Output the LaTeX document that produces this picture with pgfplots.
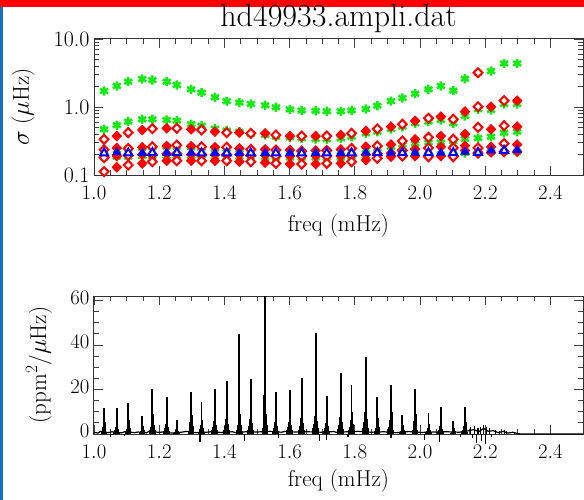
\documentclass[border=0pt]{standalone}
\usepackage{pgfplots}
\pgfplotsset{compat=1.18}
\usepackage{pgfplotstable}
\definecolor{grn}{RGB}{20,235,20}
\definecolor{rd}{RGB}{255,0,0}
\definecolor{bl}{RGB}{0,0,255}
\definecolor{barblue}{RGB}{20,110,200}

\pgfplotstableread{
k f G1 G2 G3 G4 D1 D2 D3 D4 B
0 0.992 1.59 0.40 0.22 0.18 0.30 0.23 0.172 0.106 0.205
1 1.031 1.72 0.47 0.22 0.18 0.335 0.235 0.18 0.112 0.21
2 1.070 2.04 0.54 0.23 0.185 0.374 0.25 0.19 0.13 0.215
3 1.105 2.36 0.61 0.24 0.185 0.42 0.245 0.195 0.14 0.21
4 1.148 2.58 0.66 0.25 0.19 0.46 0.255 0.20 0.148 0.21
5 1.179 2.49 0.66 0.255 0.19 0.48 0.26 0.20 0.157 0.212
6 1.223 2.36 0.645 0.26 0.19 0.486 0.267 0.205 0.162 0.212
7 1.254 2.11 0.63 0.26 0.19 0.486 0.275 0.205 0.162 0.212
8 1.298 1.82 0.56 0.255 0.19 0.47 0.265 0.20 0.162 0.212
9 1.330 1.63 0.53 0.25 0.19 0.46 0.26 0.20 0.162 0.21
10 1.371 1.39 0.48 0.245 0.185 0.434 0.256 0.20 0.162 0.21
11 1.407 1.22 0.45 0.24 0.185 0.42 0.256 0.20 0.162 0.21
12 1.446 1.16 0.434 0.235 0.185 0.42 0.246 0.20 0.157 0.21
13 1.481 1.11 0.40 0.23 0.18 0.41 0.238 0.195 0.157 0.21
14 1.525 1.06 0.387 0.225 0.18 0.41 0.238 0.195 0.152 0.21
15 1.558 0.99 0.366 0.22 0.18 0.387 0.233 0.19 0.148 0.21
16 1.601 0.92 0.358 0.22 0.18 0.374 0.233 0.19 0.145 0.21
17 1.637 0.89 0.346 0.215 0.18 0.374 0.225 0.19 0.145 0.21
18 1.680 0.88 0.338 0.215 0.18 0.374 0.229 0.19 0.145 0.21
19 1.714 0.865 0.335 0.215 0.18 0.374 0.229 0.19 0.148 0.21
20 1.757 0.865 0.346 0.22 0.18 0.387 0.238 0.19 0.148 0.21
21 1.790 0.89 0.366 0.225 0.185 0.41 0.246 0.195 0.157 0.21
22 1.834 0.935 0.41 0.235 0.19 0.444 0.261 0.20 0.166 0.212
23 1.869 1.045 0.434 0.245 0.19 0.475 0.267 0.205 0.176 0.212
24 1.911 1.22 0.475 0.26 0.195 0.514 0.281 0.21 0.186 0.212
25 1.946 1.36 0.514 0.28 0.20 0.558 0.316 0.23 0.19 0.212
26 1.985 1.57 0.576 0.29 0.20 0.625 0.335 0.24 0.19 0.212
27 2.026 1.82 0.609 0.30 0.20 0.683 0.358 0.25 0.186 0.212
28 2.064 2.04 0.645 0.30 0.20 0.722 0.374 0.26 0.19 0.212
29 2.102 1.74 0.576 0.28 0.20 0.66 0.335 0.25 0.186 0.212
30 2.138 2.61 0.738 0.34 0.21 0.856 0.40 0.27 0.23 0.22
31 2.178 3.19 0.925 0.35 0.21 1.01 0.503 0.25 0.21 0.213
32 2.218 3.38 0.905 0.366 0.22 1.01 0.47 0.26 0.215 0.229
33 2.258 4.38 1.11 0.419 0.22 1.24 0.53 0.29 0.22 0.229
34 2.298 4.38 1.11 0.434 0.22 1.24 0.514 0.28 0.22 0.233
}\topdata

\pgfplotsset{
  common/.style={
    scale only axis, width=489pt,
    xmin=1.0, xmax=2.5,
    xtick={1.0,1.2,1.4,1.6,1.8,2.0,2.2,2.4},
    minor x tick num=3,
    xticklabel style={/pgf/number format/fixed,/pgf/number format/fixed zerofill,/pgf/number format/precision=1, yshift=-8pt},
    yticklabel style={xshift=-1pt},
    tick label style={font=\fontsize{22}{22}\selectfont},
    label style={font=\fontsize{23}{23}\selectfont},
    major tick length=9pt, minor tick length=5pt,
    axis line style={line width=1pt, black!80},
    every tick/.style={black!75, line width=0.8pt},
    xlabel={freq (mHz)},
  },
  gstar/.style={only marks, mark=asterisk, mark size=4.6pt, color=grn, line width=2.5pt},
  rfill/.style={only marks, mark=diamond*, mark size=4.7pt, color=rd, mark options={fill=rd, line width=1pt, xscale=1.3}},
  ropen/.style={only marks, mark=diamond*, mark size=4.5pt, color=rd, mark options={fill=white, line width=2pt, xscale=1.3}},
  bfill/.style={only marks, mark=triangle*, mark size=4.8pt, color=bl, mark options={fill=bl, line width=0.8pt}},
  bopen/.style={only marks, mark=triangle*, mark size=4.6pt, color=bl, mark options={fill=white, line width=2pt}},
  even/.style={x filter/.code={\ifodd\coordindex\relax\def\pgfmathresult{}\fi}},
  odd/.style={x filter/.code={\ifodd\coordindex\relax\else\def\pgfmathresult{}\fi}},
}

\begin{document}
\begin{tikzpicture}
\useasboundingbox (0,0) rectangle (584pt,-500pt);
\fill[white] (0,0) rectangle (584pt,-500pt);
\fill[red] (0,0) rectangle (584pt,-7pt);
\fill[barblue] (0,-7pt) rectangle (3pt,-500pt);

\begin{axis}[common, at={(94pt,-175pt)}, anchor=south west, height=136pt,
  ymode=log, ymin=0.1, ymax=10, ytick={0.1,1,10}, yticklabels={0.1,1.0,10.0},
  ylabel={$\sigma$ ($\mu$Hz)},
  ylabel style={at={(axis description cs:-0.145,0.5)}, anchor=center},
  xlabel style={at={(axis description cs:0.5,-0.419)}, anchor=base},
  title={hd49933.ampli.dat},
  title style={font=\fontsize{32}{32}\selectfont, at={(axis description cs:0.5,1)}, anchor=base, yshift=6pt},
]
\addplot[gstar] table[x=f,y=G1] {\topdata};
\addplot[gstar] table[x=f,y=G2] {\topdata};
\addplot[gstar] table[x=f,y=G3] {\topdata};
\addplot[gstar] table[x=f,y=G4] {\topdata};
\addplot[rfill, even] table[x=f,y=D1] {\topdata};
\addplot[ropen, odd] table[x=f,y=D1] {\topdata};
\addplot[rfill, even] table[x=f,y=D2] {\topdata};
\addplot[ropen, odd] table[x=f,y=D2] {\topdata};
\addplot[rfill, even] table[x=f,y=D3] {\topdata};
\addplot[ropen, odd] table[x=f,y=D3] {\topdata};
\addplot[rfill, even] table[x=f,y=D4] {\topdata};
\addplot[ropen, odd] table[x=f,y=D4] {\topdata};
\addplot[ropen] coordinates {(2.178,3.19)};
\addplot[bfill, even] table[x=f,y=B] {\topdata};
\addplot[bopen, odd] table[x=f,y=B] {\topdata};
\end{axis}

\begin{axis}[common, at={(94pt,-434pt)}, anchor=south west, height=138pt,
  ymin=0, ymax=62, ytick={0,20,40,60}, minor y tick num=3, clip=false,
  yticklabel style={yshift=3pt},
  ylabel={(ppm$^2$/$\mu$Hz)},
  ylabel style={at={(axis description cs:-0.1125,0.5)}, anchor=center},
  xlabel style={at={(axis description cs:0.5,-0.384)}, anchor=base},
]
\addplot[ycomb, black, line width=1.8pt] coordinates {
(1.023,0.9)(1.026,1.8)(1.0285,3.3)(1.031,11.8)(1.033,5.3)(1.0355,2.4)(1.038,0.9)
(1.062,0.9)(1.065,1.8)(1.0675,3.3)(1.070,11.8)(1.072,5.3)(1.0745,2.4)(1.077,0.9)
(1.097,1.1)(1.100,2.1)(1.1025,3.9)(1.105,13.8)(1.107,6.2)(1.1095,2.8)(1.112,1.1)
(1.140,0.6)(1.143,1.2)(1.1455,2.2)(1.148,8)(1.150,3.6)(1.1525,1.6)(1.155,0.6)
(1.171,1.6)(1.174,3.1)(1.1765,5.7)(1.179,20.4)(1.181,9.2)(1.1835,4.1)(1.186,1.6)
(1.215,1.3)(1.218,2.5)(1.2205,4.6)(1.223,16.4)(1.225,7.4)(1.2275,3.3)(1.230,1.3)
(1.246,0.5)(1.249,1.0)(1.2515,1.8)(1.254,6.5)(1.256,2.9)(1.2585,1.3)(1.261,0.5)
(1.290,1.5)(1.293,2.9)(1.2955,5.3)(1.298,19)(1.300,8.6)(1.3025,3.8)(1.305,1.5)
(1.322,1.1)(1.325,2.1)(1.3275,4.0)(1.330,14.2)(1.332,6.4)(1.3345,2.8)(1.337,1.1)
(1.363,1.6)(1.366,3.1)(1.3685,5.7)(1.371,20.4)(1.373,9.2)(1.3755,4.1)(1.378,1.6)
(1.399,1.9)(1.402,3.5)(1.4045,6.6)(1.407,23.6)(1.409,10.6)(1.4115,4.7)(1.414,1.9)
(1.438,2)(1.441,4)(1.4435,10)(1.446,44.8)(1.448,9)(1.4505,4)(1.453,1.5)
(1.473,1.9)(1.476,3.7)(1.4785,6.9)(1.481,24.7)(1.483,16)(1.4855,4.9)(1.488,2.0)
(1.517,2.5)(1.520,5)(1.5225,17.5)(1.525,62)(1.527,9)(1.5295,4)(1.532,2)
(1.550,1.5)(1.553,2.9)(1.5555,5.3)(1.558,19)(1.560,8.6)(1.5625,3.8)(1.565,1.5)
(1.593,1.6)(1.596,3.0)(1.5985,5.5)(1.601,19.7)(1.603,8.9)(1.6055,3.9)(1.608,1.6)
(1.629,2.0)(1.632,3.8)(1.6345,7.0)(1.637,25.1)(1.639,17)(1.6415,5.0)(1.644,2.0)
(1.672,2.5)(1.675,4.5)(1.6775,8)(1.680,45.5)(1.682,16)(1.6845,6)(1.687,2.5)
(1.706,1.4)(1.709,2.6)(1.7115,4.8)(1.714,17.2)(1.716,7.7)(1.7185,3.4)(1.721,1.4)
(1.749,2.2)(1.752,4.1)(1.7545,7.7)(1.757,27.6)(1.759,12.4)(1.7615,5.5)(1.764,2.2)
(1.782,1.7)(1.785,3.3)(1.7875,6.1)(1.790,21.8)(1.792,9.8)(1.7945,4.4)(1.797,1.7)
(1.826,2.8)(1.829,5.2)(1.8315,9.7)(1.834,34.5)(1.836,23)(1.8385,6.9)(1.841,2.8)
(1.861,1.3)(1.864,2.5)(1.8665,4.6)(1.869,16.4)(1.871,7.4)(1.8735,3.3)(1.876,1.3)
(1.903,1.8)(1.906,3.3)(1.9085,6.2)(1.911,22.1)(1.913,9.9)(1.9155,4.4)(1.918,1.8)
(1.938,0.7)(1.941,1.3)(1.9435,2.4)(1.946,8.6)(1.948,3.9)(1.9505,1.7)(1.953,0.7)
(1.977,1.6)(1.980,3.1)(1.9825,5.7)(1.985,20.4)(1.987,9.2)(1.9895,4.1)(1.992,1.6)
(2.018,0.8)(2.021,1.4)(2.0235,2.7)(2.026,9.6)(2.028,4.3)(2.0305,1.9)(2.033,0.8)
(2.056,1.0)(2.059,1.8)(2.0615,3.4)(2.064,12.1)(2.066,5.4)(2.0685,2.4)(2.071,1.0)
(2.094,0.5)(2.097,0.9)(2.0995,1.7)(2.102,6)(2.104,2.7)(2.1065,1.2)(2.109,0.5)
(2.130,1.0)(2.133,1.8)(2.1355,3.4)(2.138,12.1)(2.140,5.4)(2.1425,2.4)(2.145,1.0)
};
\addplot[black, line width=1.2pt] coordinates {
(1.000,0.8)(1.012,0.4)(1.020,1.2)(1.045,0.6)(1.055,1.0)(1.085,0.5)(1.095,1.1)(1.125,0.6)
(1.135,0.9)(1.160,0.5)(1.170,1.3)(1.200,0.7)(1.210,0.9)(1.240,0.4)(1.268,0.8)(1.285,1.2)
(1.312,0.6)(1.345,0.8)(1.358,1.0)(1.390,0.7)(1.425,1.0)(1.435,0.6)(1.465,1.0)(1.500,0.9)
(1.540,1.2)(1.575,0.8)(1.585,1.1)(1.620,0.9)(1.655,1.0)(1.700,0.8)(1.735,1.1)(1.745,0.7)
(1.775,1.0)(1.810,1.2)(1.850,0.8)(1.890,1.0)(1.925,0.6)(1.965,1.1)(2.005,0.7)(2.045,0.9)
(2.083,1.0)(2.120,0.8)(2.150,1.5)(2.165,2.0)(2.180,1.0)(2.195,2.5)(2.210,1.2)(2.225,1.5)
(2.240,0.6)(2.255,1.2)(2.270,0.4)(2.285,0.8)(2.300,0.2)(2.310,0)(2.500,0)
};
\addplot[ycomb, black, line width=1.1pt] coordinates {
(1.050,-1.5)(1.093,-1)(1.325,-3.8)(1.463,-3)(1.566,-2)(1.693,-3)(1.714,-2.5)(1.779,-1.5)
(1.911,-2)(2.015,-2.5)(2.060,-3.5)(2.124,-1.5)
(2.155,3)(2.162,-2)(2.168,3.5)(2.172,-4)(2.178,2.5)(2.185,3)(2.190,-3)(2.196,4)(2.200,-4.3)
(2.205,3)(2.212,2.5)(2.220,-1.5)(2.232,2)(2.245,1.5)(2.258,1.8)(2.265,1.2)(2.290,1.0)
};
\end{axis}
\end{tikzpicture}
\end{document}
